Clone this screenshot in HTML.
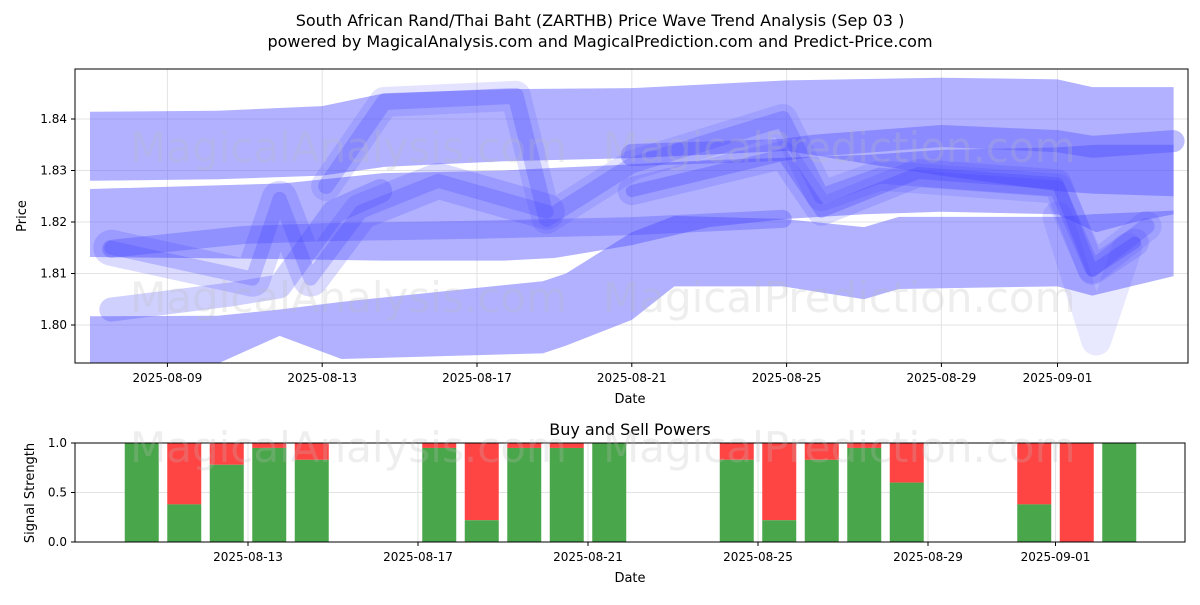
<!DOCTYPE html>
<html><head><meta charset="utf-8"><style>
body{margin:0;background:#fff;font-family:"Liberation Sans","DejaVu Sans",sans-serif}
svg text{font-family:"DejaVu Sans","Liberation Sans",sans-serif}
</style></head><body>
<svg id="c" width="1200" height="600" xmlns="http://www.w3.org/2000/svg">
<rect width="1200" height="600" fill="#fff"/>
<text x="600" y="26" text-anchor="middle" font-size="16">South African Rand/Thai Baht (ZARTHB) Price Wave Trend Analysis (Sep 03 )</text>
<text x="600" y="47" text-anchor="middle" font-size="16">powered by MagicalAnalysis.com and MagicalPrediction.com and Predict-Price.com</text>
<g id="top"></g><g id="bot"></g>
</svg>
<script>
// ---- data ----
const bandADays = [0,3.3,6,7.6,10.7,14,18,22,25,25.9,28];
const bandAUpper = [1.8414,1.8416,1.8425,1.845,1.8458,1.846,1.8475,1.848,1.8477,1.8462,1.8462];
const bandALower = [1.828,1.8283,1.829,1.8307,1.8318,1.8324,1.8338,1.829,1.826,1.8255,1.825];
const bandBDays = [0,5,7.6,10.7,12,14,16,18,20,22,25,26,27,28];
const bandBUpper = [1.8264,1.8275,1.8295,1.830,1.8305,1.8312,1.832,1.8325,1.833,1.834,1.8345,1.835,1.835,1.835];
const bandBLower = [1.8132,1.8128,1.8125,1.8125,1.8130,1.8155,1.819,1.8206,1.8215,1.822,1.8215,1.818,1.820,1.8215];
const bandCDays = [0,3.3,4.9,6.5,11.7,12.3,14,15.1,17.9,20,20.9,25,25.9,28];
const bandCUpper = [1.8017,1.8018,1.803,1.8045,1.8085,1.810,1.818,1.8212,1.8206,1.819,1.821,1.821,1.8215,1.8222];
const bandCLower = [1.7925,1.7925,1.7979,1.7934,1.7945,1.796,1.801,1.8075,1.8075,1.805,1.807,1.8075,1.8057,1.8095];
const w1Days = [6.1,7.6,11,11.8,14,17.9,18.9,20.4,25,25.9,27.3];
const w1Vals = [1.827,1.8433,1.8445,1.8206,1.831,1.840,1.825,1.829,1.8265,1.811,1.8192];
const w2Days = [0.55,3.7,4.9,6.3,7.5];
const w2Vals = [1.803,1.806,1.8075,1.822,1.826];
const w3Days = [0.55,4,6,10,14,17.9];
const w3Vals = [1.8148,1.8175,1.818,1.8185,1.8192,1.8206];
const w4Days = [14,17.9,18.7,22,25,25.9,28];
const w4Vals = [1.833,1.834,1.8348,1.8367,1.8357,1.8346,1.8357];
const w5Days = [14,17.9,18.9,21.4,25,25.9,27];
const w5Vals = [1.826,1.833,1.822,1.8295,1.8275,1.8105,1.816];
const w6Days = [0.55,4.2,4.9,5.7,7,9,11.8];
const w6Vals = [1.815,1.809,1.8245,1.809,1.822,1.828,1.822];
const w7Days = [25,26,26.8];
const w7Vals = [1.821,1.797,1.815];
const yTicks = [1.80,1.81,1.82,1.83,1.84];
const xTickDays = [2,6,10,14,18,22,25];
const xTickLabels = ["2025-08-09","2025-08-13","2025-08-17","2025-08-21","2025-08-25","2025-08-29","2025-09-01"];
const barDays = [3.5,4.5,5.5,6.5,7.5,10.5,11.5,12.5,13.5,14.5,17.5,18.5,19.5,20.5,21.5,24.5,25.5,26.5];
const buyPower = [1.0,0.38,0.78,0.95,0.83,0.95,0.22,0.95,0.95,1.0,0.83,0.22,0.83,0.95,0.6,0.38,0.0,1.0];
const botTickDays = [6,10,14,18,22,25];
const botTickLabels = ["2025-08-13","2025-08-17","2025-08-21","2025-08-25","2025-08-29","2025-09-01"];
const sigTicks = [0,0.5,1.0];
// ---- scales ----
const X=d=>90+d*38.7, Y=p=>325-(p-1.80)*5150;
const XB=d=>-7+d*42.5, YB=v=>542-v*99;
const NS="http://www.w3.org/2000/svg";
function mk(parent,tag,attrs){const e=document.createElementNS(NS,tag);for(const k in attrs)e.setAttribute(k,attrs[k]);parent.appendChild(e);return e;}
function svgRoot(){return document.getElementById('c');}
const topG=document.getElementById('top'), botG=document.getElementById('bot');
const defs=mk(topG,'clipPath',{id:'cp'});mk(defs,'rect',{x:75,y:69,width:1113,height:294});
yTicks.forEach(t=>{const l=mk(topG,'line',{x1:75,x2:1188,y1:Y(t),y2:Y(t),stroke:'#e3e3e3'});

});
xTickDays.forEach(d=>{const l=mk(topG,'line',{x1:X(d),x2:X(d),y1:69,y2:363,stroke:'#e3e3e3'});

});
const g=mk(topG,'g',{'clip-path':'url(#cp)'});
function band(days,up,lo,name){const pts=days.map((d,i)=>X(d)+','+Y(up[i])).concat(days.map((d,i)=>X(d)+','+Y(lo[i])).reverse());
const p=mk(g,'polygon',{points:pts.join(' '),fill:'#5555ff','fill-opacity':0.46});

}
band(bandADays,bandAUpper,bandALower,'wave-band-upper');
band(bandBDays,bandBUpper,bandBLower,'wave-band-middle');
band(bandCDays,bandCUpper,bandCLower,'wave-band-lower');
function wave(days,vals,w,op,name){const p=mk(g,'polyline',{points:days.map((d,i)=>X(d)+','+Y(vals[i])).join(' '),fill:'none',stroke:'#4444ff','stroke-opacity':op,'stroke-width':w,'stroke-linejoin':'round','stroke-linecap':'round'});

}
wave(w7Days,w7Vals,30,0.12,'wave-line');
wave(w1Days,w1Vals,30,0.15,'wave-line');wave(w1Days,w1Vals,16,0.25,'wave-line');
wave(w2Days,w2Vals,24,0.25,'wave-line');
wave(w6Days,w6Vals,36,0.2,'wave-line');wave(w6Days,w6Vals,14,0.25,'wave-line');
wave(w3Days,w3Vals,18,0.3,'wave-line');
wave(w4Days,w4Vals,22,0.35,'wave-line');
wave(w5Days,w5Vals,28,0.18,'wave-line');wave(w5Days,w5Vals,12,0.3,'wave-line');
[[130,162,'MagicalAnalysis.com'],[603,162,'MagicalPrediction.com'],[130,312,'MagicalAnalysis.com'],[603,312,'MagicalPrediction.com'],[130,462,'MagicalAnalysis.com'],[603,462,'MagicalPrediction.com']].forEach(w=>{const t=mk(svgRoot(),'text',{x:w[0],y:w[1],'font-size':42,fill:'#bbb','fill-opacity':0.25});t.textContent=w[2];

});
mk(topG,'rect',{x:75,y:69,width:1113,height:294,fill:'none',stroke:'#000'});
yTicks.forEach(t=>{mk(topG,'line',{x1:71,x2:75,y1:Y(t),y2:Y(t),stroke:'#000'});const tx=mk(topG,'text',{x:67,y:Y(t)+4,'text-anchor':'end','font-size':12});tx.textContent=t.toFixed(2);

});
xTickDays.forEach((d,i)=>{mk(topG,'line',{x1:X(d),x2:X(d),y1:363,y2:367,stroke:'#000'});const tx=mk(topG,'text',{x:X(d),y:382,'text-anchor':'middle','font-size':12});tx.textContent=xTickLabels[i];

});
let t1=mk(topG,'text',{x:630,y:403,'text-anchor':'middle','font-size':13});t1.textContent='Date';


let t2=mk(topG,'text',{x:26,y:216,'text-anchor':'middle','font-size':13,transform:'rotate(-90 26 216)'});t2.textContent='Price';


sigTicks.forEach(t=>{mk(botG,'line',{x1:75,x2:1185,y1:YB(t),y2:YB(t),stroke:'#e3e3e3'});});
botTickDays.forEach(d=>{mk(botG,'line',{x1:XB(d),x2:XB(d),y1:443,y2:542,stroke:'#e3e3e3'});});
barDays.forEach((d,i)=>{const v=buyPower[i];
const r=mk(botG,'rect',{x:XB(d)-17,y:YB(1),width:34,height:YB(v)-YB(1),fill:'#ff4444'});


const gr=mk(botG,'rect',{x:XB(d)-17,y:YB(v),width:34,height:YB(0)-YB(v),fill:'#4aa64a'});

});
mk(botG,'rect',{x:75,y:443,width:1110,height:99,fill:'none',stroke:'#000'});
sigTicks.forEach(t=>{mk(botG,'line',{x1:71,x2:75,y1:YB(t),y2:YB(t),stroke:'#000'});const tx=mk(botG,'text',{x:67,y:YB(t)+4,'text-anchor':'end','font-size':12});tx.textContent=t.toFixed(1);

});
botTickDays.forEach((d,i)=>{mk(botG,'line',{x1:XB(d),x2:XB(d),y1:542,y2:546,stroke:'#000'});const tx=mk(botG,'text',{x:XB(d),y:561,'text-anchor':'middle','font-size':12});tx.textContent=botTickLabels[i];

});
let t3=mk(botG,'text',{x:630,y:582,'text-anchor':'middle','font-size':13});t3.textContent='Date';


let t4=mk(botG,'text',{x:34,y:493,'text-anchor':'middle','font-size':13,transform:'rotate(-90 34 493)'});t4.textContent='Signal Strength';


let t5=mk(botG,'text',{x:630,y:435,'text-anchor':'middle','font-size':16});t5.textContent='Buy and Sell Powers';


</script>
</body></html>
